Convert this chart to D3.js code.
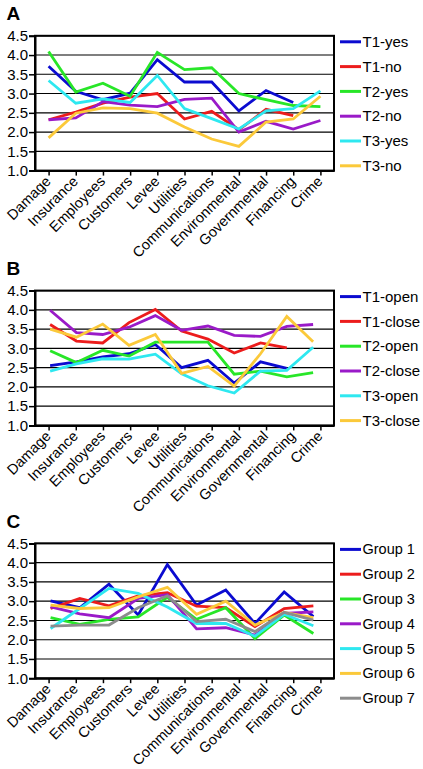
<!DOCTYPE html>
<html><head><meta charset="utf-8">
<script src="https://cdn.jsdelivr.net/npm/d3@7"></script>
<style>
html,body{margin:0;padding:0;background:#fff;}
svg{display:block;font-family:"Liberation Sans",Arial,sans-serif;}
</style></head>
<body><svg id="chart" width="423" height="769"></svg>
<script>
const categories = ["Damage","Insurance","Employees","Customers","Levee","Utilities","Communications","Environmental","Governmental","Financing","Crime"];
const yTicks = [1.0,1.5,2.0,2.5,3.0,3.5,4.0,4.5];
const colors = ["#0b0bd0","#ec1c1c","#28e628","#9a1ac8","#2ee8f0","#fbc93a","#8c8c8c"];

// Panel A
const namesA = ["T1-yes","T1-no","T2-yes","T2-no","T3-yes","T3-no"];
const t1yesA = [3.71,3.06,2.84,3.01,3.88,3.30,3.30,2.55,3.08,2.77];
const t1noA  = [2.32,2.52,2.75,2.91,3.00,2.34,2.54,2.06,2.59,2.43];
const t2yesA = [4.09,3.04,3.27,2.93,4.07,3.62,3.67,3.00,2.84,2.69,2.66];
const t2noA  = [2.32,2.37,2.79,2.70,2.66,2.85,2.88,2.00,2.28,2.08,2.30];
const t3yesA = [3.34,2.75,2.86,2.77,3.47,2.61,2.35,2.08,2.55,2.61,3.07];
const t3noA  = [1.85,2.49,2.63,2.61,2.49,2.13,1.82,1.63,2.26,2.34,2.93];

// Panel B
const namesB = ["T1-open","T1-close","T2-open","T2-close","T3-open","T3-close"];
const t1openB  = [2.55,2.65,2.78,2.86,3.10,2.50,2.69,2.10,2.65,2.48];
const t1closeB = [3.62,3.19,3.14,3.67,4.01,3.45,3.24,2.88,3.14,3.01];
const t2openB  = [2.94,2.63,2.95,2.80,3.16,3.16,3.16,2.33,2.41,2.26,2.37];
const t2closeB = [3.99,3.41,3.36,3.55,3.85,3.47,3.58,3.34,3.31,3.57,3.62];
const t3openB  = [2.41,2.60,2.73,2.72,2.85,2.34,2.03,1.84,2.41,2.43,3.03];
const t3closeB = [3.50,3.29,3.63,3.08,3.36,2.35,2.53,2.02,2.86,3.83,3.17];

// Panel C
const namesC = ["Group 1","Group 2","Group 3","Group 4","Group 5","Group 6","Group 7"];
const group1C = [3.01,2.83,3.44,2.64,3.95,2.90,3.29,2.42,3.24,2.60];
const group2C = [2.81,3.07,2.88,3.14,3.22,2.87,2.83,2.34,2.81,2.88];
const group3C = [2.57,2.40,2.53,2.59,3.10,2.53,2.83,2.03,2.64,2.16];
const group4C = [2.85,2.67,2.57,3.07,3.17,2.28,2.31,2.12,2.68,2.72];
const group5C = [2.29,2.81,3.33,3.20,2.85,2.42,2.42,2.09,2.66,2.36];
const group6C = [2.90,2.81,2.83,3.11,3.36,2.66,3.00,2.38,2.71,2.57];
const group7C = [2.35,2.38,2.38,2.83,3.14,2.47,2.53,2.21,2.71,2.51];

const svg = d3.select("#chart");
const L = 35, R = 334, H = 134.8;
const panels = [
  {label:"A", top:35.8, names:namesA, series:[t1yesA,t1noA,t2yesA,t2noA,t3yesA,t3noA], pad:0.5, align:0.5, n:11},
  {label:"B", top:290.6, names:namesB, series:[t1openB,t1closeB,t2openB,t2closeB,t3openB,t3closeB], pad:0.685, align:0.42, n:11},
  {label:"C", top:543.4, names:namesC, series:[group1C,group2C,group3C,group4C,group5C,group6C,group7C], pad:0.62, align:0.43, n:10}
];

const xAxisScale = d3.scalePoint().domain(categories).range([L,R]).padding(0.5);

panels.forEach(p => {
  const g = svg.append("g");
  const y = d3.scaleLinear().domain([1,4.5]).range([p.top+H, p.top]);
  const xl = d3.scalePoint().domain(d3.range(p.n)).range([L,R]).padding(p.pad).align(p.align);

  g.append("text").attr("x",6.5).attr("y",p.top-15.5).attr("font-size",19).attr("font-weight","bold").attr("fill","#000").text(p.label);

  g.selectAll(".grid").data(yTicks.slice(1)).join("line")
    .attr("x1",L).attr("x2",R).attr("y1",d=>y(d)).attr("y2",d=>y(d))
    .attr("stroke","#000").attr("stroke-width",1.1);

  p.series.forEach((s,i) => {
    const line = d3.line().x((d,j)=>xl(j)).y(d=>y(d));
    g.append("path").datum(s).attr("d",line).attr("fill","none")
      .attr("stroke",colors[i]).attr("stroke-width",2.8).attr("stroke-linejoin","miter");
  });

  g.append("rect").attr("x",L).attr("y",p.top).attr("width",R-L).attr("height",H)
    .attr("fill","none").attr("stroke","#000").attr("stroke-width",2);

  const ya = g.append("g").attr("transform",`translate(${L},0)`)
    .call(d3.axisLeft(y).tickValues(yTicks).tickFormat(d3.format(".1f")).tickSize(6).tickPadding(1));
  ya.select(".domain").attr("stroke-width",2);
  ya.selectAll(".tick line").attr("stroke-width",1.5);
  ya.selectAll("text").attr("font-size",15).attr("fill","#000").attr("font-family","Liberation Sans, Arial, sans-serif");

  const xa = g.append("g").attr("transform",`translate(0,${p.top+H})`)
    .call(d3.axisBottom(xAxisScale).tickSize(5).tickSizeOuter(0));
  xa.select(".domain").attr("stroke-width",2);
  xa.selectAll(".tick line").attr("stroke-width",1.5);
  xa.selectAll("text").attr("font-size",14.5).attr("fill","#000").attr("font-family","Liberation Sans, Arial, sans-serif")
    .attr("text-anchor","end").attr("y",0).attr("dy","0.35em")
    .attr("transform","translate(-1,8) rotate(-45)");

  const lg = g.append("g");
  p.names.forEach((nm,i) => {
    const ly = p.top + 6 + i*24.8;
    lg.append("line").attr("x1",340).attr("x2",361).attr("y1",ly).attr("y2",ly)
      .attr("stroke",colors[i]).attr("stroke-width",3);
    lg.append("text").attr("x",362.5).attr("y",ly).attr("dy","0.35em")
      .attr("font-size",p.label==="C"?14.5:15).attr("fill","#000").text(nm);
  });
});
</script></body></html>
